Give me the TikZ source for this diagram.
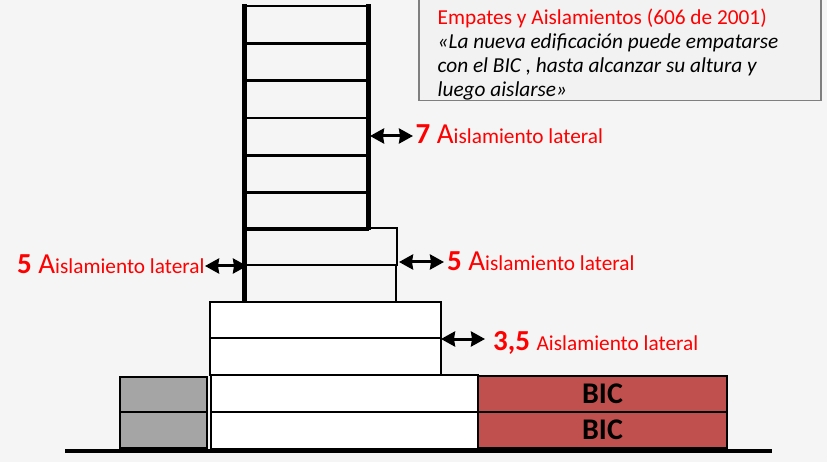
\documentclass[tikz,border=0pt]{standalone}
\usepackage{fontspec}
\setmainfont{Carlito}
\usetikzlibrary{arrows.meta}
\definecolor{bg}{HTML}{F5F5F5}
\definecolor{boxfill}{HTML}{F2F2F2}
\definecolor{boxline}{HTML}{7F7F7F}
\definecolor{bicred}{HTML}{C0504D}
\definecolor{grayblk}{HTML}{A5A5A5}
\definecolor{lblred}{HTML}{FF0000}
\begin{document}
\begin{tikzpicture}[x=1pt,y=-1pt,
  blk/.style={draw=black, line width=1.6pt, inner sep=0pt, outer sep=0pt, anchor=north west},
  floorbox/.style={blk, line width=2.4pt, minimum width=124pt, minimum height=37.33pt},
  whitebox/.style={blk, fill=white},
  redbox/.style={blk, fill=bicred, font=\fontsize{30}{32}\selectfont\bfseries},
  graybox/.style={blk, fill=grayblk},
  dblarrow/.style={line width=3pt, {Stealth[length=14pt,width=15pt,inset=1pt]}-{Stealth[length=14pt,width=15pt,inset=1pt]}},
  lbl/.style={anchor=base west, inner sep=0pt, text=lblred},
  quote/.style={anchor=base west, inner sep=0pt, font=\fontsize{21.3}{24}\selectfont\itshape}
]
\fill[bg] (0,0) rectangle (827,462);
\useasboundingbox (0,0) rectangle (827,462);

% text box
\node[draw=boxline, fill=boxfill, line width=1.5pt, anchor=north west, inner sep=0pt,
  minimum width=402pt, minimum height=106pt] (tb) at (418,-6) {};
\node[anchor=base west, inner sep=0pt, text=lblred, font=\fontsize{21.3}{24}\selectfont] (q1) at (437.5,25) {Empates y Aislamientos (606 de 2001)};
\node[quote] (q2) at (437.5,48.5) {«La nueva edificación puede empatarse};
\node[quote] (q3) at (437.5,72.5) {con el BIC , hasta alcanzar su altura y};
\node[quote] (q4) at (437.5,96.5) {luego aislarse»};

% tier 4
\node[graybox, minimum width=87pt, minimum height=35pt] (g1) at (120,377) {};
\node[graybox, minimum width=87pt, minimum height=36pt] (g2) at (120,412) {};
\node[whitebox, minimum width=267pt, minimum height=37pt] (w1) at (211,375) {};
\node[whitebox, minimum width=267pt, minimum height=37pt] (w2) at (211,412) {};
\node[redbox, minimum width=249pt, minimum height=36pt] (r1) at (478,376) {BIC};
\node[redbox, minimum width=249pt, minimum height=36pt] (r2) at (478,412) {BIC};

% tier 3
\node[whitebox, minimum width=231pt, minimum height=36pt] (t3a) at (210,302) {};
\node[whitebox, minimum width=231pt, minimum height=37pt] (t3b) at (210,338) {};

% tier 2
\node[blk, minimum width=153pt, minimum height=37pt] (t2a) at (244,228) {};
\node[blk, minimum width=152pt, minimum height=37pt] (t2b) at (244,265) {};

% tier 1 floors
\foreach \i in {0,...,5}{
  \node[floorbox] (f\i) at (244,{6+37.33*\i}) {};
}
\draw[line width=5pt] ([yshift=1.5pt]f0.north west) -- ([yshift=-1pt]t2b.south west);
\draw[line width=5pt] ([yshift=1.5pt]f0.north east) -- (f5.south east);

% ground
\coordinate (gl) at (65,451);
\coordinate (gr) at (772,451);
\draw[line width=4pt] (gl) -- (gr);

% dimension arrows and labels
\coordinate (a7s) at (370,136); \coordinate (a7e) at (413,136);
\draw[dblarrow] (a7s) -- (a7e);
\node[lbl] (l7) at (415.5,144) {\fontsize{29}{30}\selectfont\textbf{7} A\fontsize{21.3}{24}\selectfont islamiento lateral};

\coordinate (a5ls) at (205,266); \coordinate (a5le) at (247,266);
\draw[dblarrow] (a5ls) -- (a5le);
\node[lbl] (l5l) at (17,273) {\fontsize{29}{30}\selectfont\textbf{5} A\fontsize{21.3}{24}\selectfont islamiento lateral};

\coordinate (a5rs) at (399,262); \coordinate (a5re) at (444,262);
\draw[dblarrow] (a5rs) -- (a5re);
\node[lbl] (l5r) at (447,271) {\fontsize{29}{30}\selectfont\textbf{5} A\fontsize{21.3}{24}\selectfont islamiento lateral};

\coordinate (a35s) at (441,339); \coordinate (a35e) at (485,339);
\draw[dblarrow] (a35s) -- (a35e);
\node[lbl] (l35) at (493,350) {\fontsize{29}{30}\selectfont\textbf{3,5} \fontsize{21.3}{24}\selectfont Aislamiento lateral};
\end{tikzpicture}
\end{document}
